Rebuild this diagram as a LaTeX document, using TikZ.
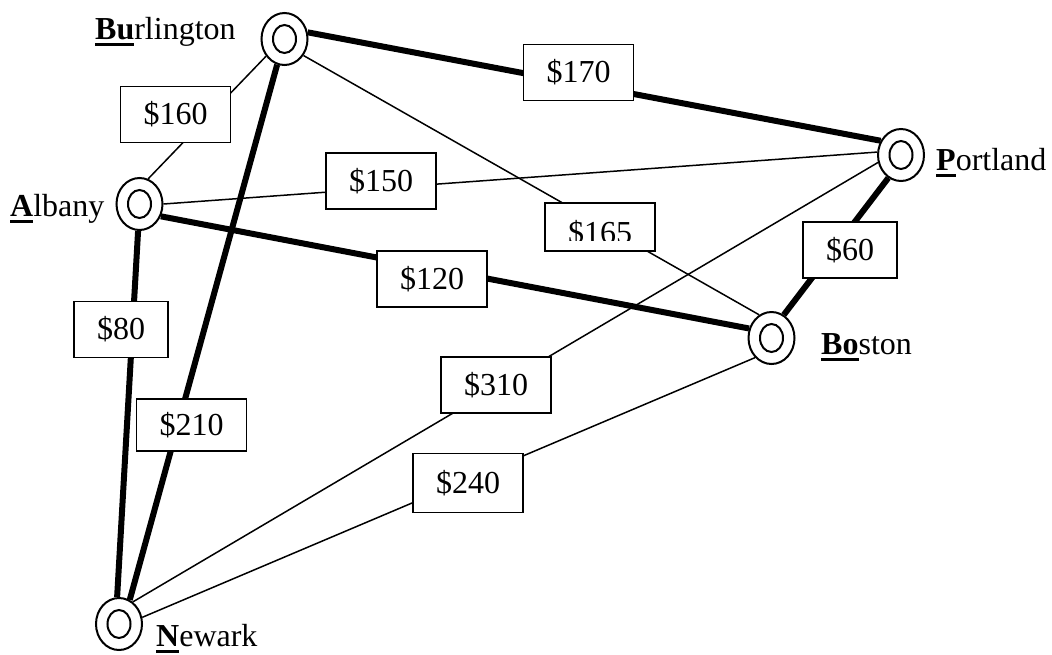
\documentclass[tikz,border=0pt]{standalone}
\usepackage{fontspec}
\setmainfont{Liberation Serif}
\usetikzlibrary{shapes.geometric}
\newcommand\cityul[1]{\setbox0\hbox{\textbf{#1}}\rlap{\rule[-7pt]{\wd0}{3pt}}\box0}
\begin{document}
\begin{tikzpicture}[x=1pt,y=-1pt,
  font=\fontsize{32}{36}\selectfont,
  city/.style={ellipse, draw, line width=2pt, minimum width=46pt, minimum height=52pt, inner sep=0pt},
  cityin/.style={ellipse, draw, line width=2pt, minimum width=23pt, minimum height=28pt, inner sep=0pt},
  heavy/.style={line width=6pt},
  light/.style={line width=1.5pt},
  price/.style={draw, fill=white, line width=1.8pt, minimum height=56pt, inner xsep=23pt, inner ysep=0pt},
  citylabel/.style={anchor=base west, inner sep=0pt}]
\useasboundingbox (0,0) rectangle (1052,654);

% cities
\node[city] (bur) at (284.5,39) {};
\node[city] (alb) at (139.5,204) {};
\node[city] (por) at (901,155) {};
\node[city] (bos) at (771.5,338) {};
\node[city] (new) at (119,624) {};
\node[cityin] (buri) at (bur) {};
\node[cityin] (albi) at (alb) {};
\node[cityin] (pori) at (por) {};
\node[cityin] (bosi) at (bos) {};
\node[cityin] (newi) at (new) {};

% city names
\node[citylabel] (burl) at (95,39) {\cityul{Bu}rlington};
\node[citylabel] (albl) at (10,216) {\cityul{A}lbany};
\node[citylabel] (porl) at (936,170) {\cityul{P}ortland};
\node[citylabel] (bosl) at (821,354) {\cityul{Bo}ston};
\node[citylabel] (newl) at (156,646) {\cityul{N}ewark};

% connections
\draw[heavy] (bur.16) -- (por.145);
\draw[light] (bur.223) -- (alb.71);
\draw[light] (alb.0) -- (por.173);
\draw[light] (bur.-41) -- (bos.118);
\draw[heavy] (por.-119) -- (bos.62);
\draw[heavy] (alb.-30) -- (bos.157);
\draw[heavy] (alb.-93) -- (new.94);
\draw[heavy] (bur.-106) -- (new.66);
\draw[light] (new.58) -- (por.-162);
\draw[light] (new.16) -- (bos.230);

% prices
\node[price] (p170) at (578.5,72.5) {\$170};
\node[price] (p160) at (175.5,114.5) {\$160};
\node[price] (p150) at (381,181) {\$150};
\node[price] (p60) at (850,250) {\$60};
\node[price] (p120) at (432,279) {\$120};
\node[price] (p80) at (121,329.5) {\$80};
\node[price] (p310) at (496,385) {\$310};
\node[price, minimum height=52pt] (p210) at (191.5,425) {\$210};
\node[price, minimum height=59pt] (p240) at (468,483) {\$240};

% clipped $165 label
\node[draw, fill=white, line width=1.8pt, minimum width=110pt, minimum height=48pt, inner sep=0pt] (p165) at (600,227) {};
\begin{scope}
  \clip (546,204) rectangle (654,240);
  \node[anchor=base, inner sep=0pt] (t165) at (600,243) {\$165};
\end{scope}
\end{tikzpicture}
\end{document}
